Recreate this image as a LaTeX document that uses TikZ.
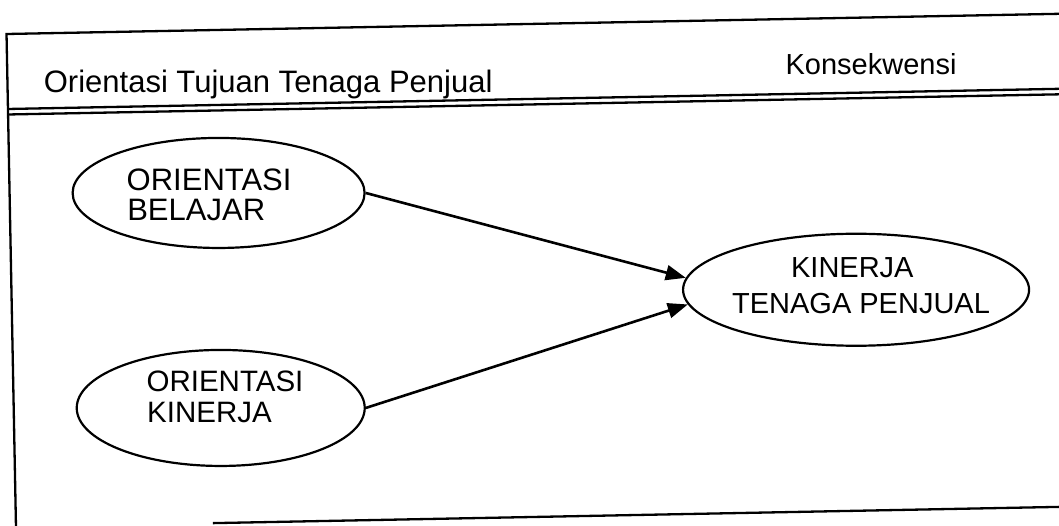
\documentclass[tikz,border=0pt]{standalone}
\usepackage{fontspec}
\setmainfont{Liberation Sans}
\usetikzlibrary{shapes.geometric,arrows.meta}
\begin{document}
\begin{tikzpicture}[x=1pt,y=-1pt,
  frame/.style={line width=2.3pt},
  oval/.style={draw,ellipse,line width=2.2pt,inner sep=0pt},
  lbl/.style={inner sep=0pt},
  arr/.style={line width=2.6pt,-{Triangle[length=20pt,width=15pt]}}]
\useasboundingbox (0,0) rectangle (1059,526);
\clip (0,0) rectangle (1059,526);
\begin{scope}[rotate around={1.1:(530,263)}]
  % outer frame and header rule
  \draw[frame] (1100,24) -- (11,24) -- (11,560);
  \draw[frame] (208,517) -- (1100,517);
  \draw[frame] (11,99) -- (1100,99);
  \draw[frame] (11,104.5) -- (1100,104.5);
  % column headings
  \node[lbl,anchor=base west,font=\fontsize{31}{34}\selectfont] (hleft) at (47,83.7) {Orientasi Tujuan Tenaga Penjual};
  \node[lbl,anchor=base west,font=\fontsize{29}{32}\selectfont] (hright) at (789,79) {Konsekwensi};
  % constructs
  \node[oval,minimum width=292pt,minimum height=110pt] (ob) at (220,187) {};
  \node[oval,minimum width=288pt,minimum height=116pt] (ok) at (218,402) {};
  \node[oval,minimum width=346pt,minimum height=112pt] (kt) at (855.5,296) {};
  \node[lbl,anchor=base west,font=\fontsize{31}{34}\selectfont] (ob1) at (128,182.3) {ORIENTASI};
  \node[lbl,anchor=base west,font=\fontsize{31}{34}\selectfont] (ob2) at (128,212.3) {BELAJAR};
  \node[lbl,anchor=base west,font=\fontsize{29.5}{33}\selectfont] (ok1) at (144,384.6) {ORIENTASI};
  \node[lbl,anchor=base west,font=\fontsize{29.5}{33}\selectfont] (ok2) at (144,415.6) {KINERJA};
  \node[lbl,anchor=base,font=\fontsize{29}{32}\selectfont] (kt1) at (852,284) {KINERJA};
  \node[lbl,anchor=base,font=\fontsize{29}{32}\selectfont] (kt2) at (860,319.4) {TENAGA PENJUAL};
  % paths
  \draw[arr] (ob.east) -- (kt.176);
  \draw[arr] (ok.east) -- (kt.185);
\end{scope}
\end{tikzpicture}
\end{document}
